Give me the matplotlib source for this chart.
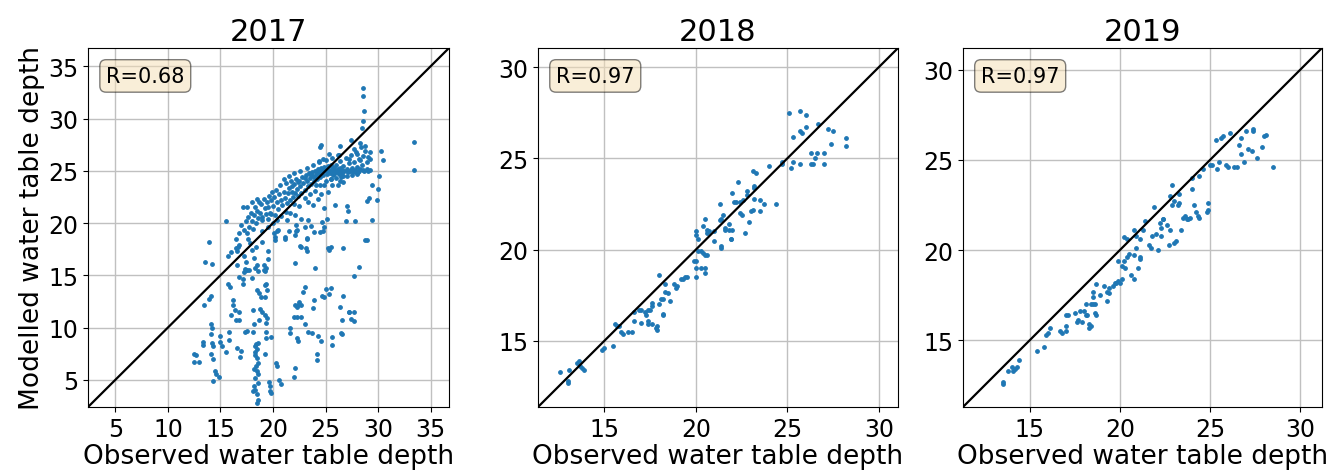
import matplotlib
matplotlib.use("Agg")
import matplotlib.pyplot as plt

# ---- data (observed, modelled) ----
years = ["2017", "2018", "2019"]
r_values = ["R=0.68", "R=0.97", "R=0.97"]

obs_2017 = [
    28.6, 28.6, 28.7, 28.6, 28.5, 33.4, 33.4, 24.6, 24.5, 30.3,
    30.5, 30.1, 30.0, 29.9, 29.4, 29.1, 28.9, 29.4, 28.8, 28.2,
    27.7, 27.0, 27.1, 26.9, 27.8, 26.4, 26.7, 25.5, 25.3, 24.8,
    24.7, 24.0, 23.9, 23.6, 23.1, 22.1, 22.3, 22.1, 21.5, 21.1,
    20.2, 20.4, 20.1, 19.5, 19.5, 19.3, 19.2, 19.2, 19.3, 18.7,
    18.9, 18.5, 18.3, 18.2, 18.0, 17.8, 17.4, 17.2, 17.1, 17.1,
    16.2, 16.2, 15.9, 15.7, 15.7, 15.5, 13.9, 13.5, 14.2, 14.1,
    13.9, 13.4, 16.0, 16.5, 16.8, 14.1, 14.2, 14.1, 15.0, 15.0,
    15.1, 13.3, 13.3, 12.5, 12.7, 12.5, 13.0, 14.2, 14.3, 14.1,
    14.6, 14.9, 14.3, 15.5, 15.8, 15.8, 16.6, 17.0, 17.3, 18.2,
    18.1, 18.4, 18.3, 18.5, 18.3, 18.6, 18.3, 18.5, 18.6, 18.4,
    18.2, 18.5, 18.6, 18.3, 18.6, 18.2, 18.3, 18.1, 18.5, 18.6,
    18.5, 19.3, 19.3, 19.3, 19.0, 18.8, 19.7, 19.7, 19.8, 20.4,
    22.1, 22.0, 21.6, 22.1, 22.4, 22.7, 22.3, 22.5, 22.0, 22.3,
    22.7, 23.0, 22.9, 23.0, 22.3, 22.4, 23.7, 24.2, 24.2, 24.6,
    24.9, 24.7, 25.5, 25.6, 25.6, 26.4, 26.7, 26.6, 26.6, 27.2,
    27.4, 27.7, 27.7, 23.9, 25.0, 23.3, 21.6, 19.6, 19.2, 19.4,
    16.8, 18.0, 17.7, 18.6, 17.4, 16.6, 17.2, 16.7, 16.6, 17.1,
    26.5, 24.3, 28.9, 24.5, 23.2, 22.6, 23.2, 23.8, 25.3, 27.2,
    20.3, 20.6, 20.8, 19.2, 19.8, 14.3, 14.5, 16.9, 17.5, 16.4,
    16.8, 18.1, 18.7, 18.5, 19.4, 19.2, 19.1, 19.1, 17.3, 17.5,
    # dense band
    16.8, 17.0, 17.2, 17.4, 17.5, 17.6, 17.7, 17.9, 18.0, 18.1,
    18.2, 18.3, 18.4, 18.5, 18.6, 18.7, 18.8, 18.9, 19.0, 19.1,
    19.2, 19.3, 19.4, 19.5, 19.6, 19.7, 19.8, 19.9, 20.0, 20.1,
    20.2, 20.3, 20.4, 20.5, 20.6, 20.7, 20.8, 20.9, 21.0, 21.1,
    21.2, 21.3, 21.4, 21.5, 21.6, 21.7, 21.8, 21.9, 22.0, 22.1,
    22.2, 22.3, 22.4, 22.5, 22.6, 22.7, 22.8, 22.9, 23.0, 23.1,
    23.2, 23.3, 23.4, 23.5, 23.6, 23.7, 23.8, 23.9, 24.0, 24.1,
    24.2, 24.3, 24.4, 24.5, 24.6, 24.7, 24.8, 24.9, 25.0, 25.1,
    25.2, 25.3, 25.4, 25.5, 25.6, 25.7, 25.8, 25.9, 26.0, 26.1,
    26.2, 26.3, 26.4, 26.5, 26.6, 26.7, 26.8, 26.9, 27.0, 27.1,
    27.2, 27.3, 27.4, 27.5, 27.6, 27.7, 27.8, 27.9, 28.0, 28.1,
    28.2, 28.3, 28.4, 28.5, 28.6, 28.7, 28.8, 28.9, 29.0, 29.2,
    19.0, 19.5, 20.0, 20.4, 20.8, 21.2, 21.6, 22.0, 22.5, 23.0,
    23.5, 24.0, 24.5, 25.0, 25.5, 26.0, 26.5, 27.0, 27.5, 28.0,
    21.0, 21.5, 22.0, 22.6, 23.2, 23.8, 24.4, 25.0, 25.6, 26.2,
    17.5, 18.0, 18.5, 16.5, 16.8, 16.5, 16.0, 17.6, 18.4, 19.0,
    20.2, 20.5, 21.1, 22.2, 23.2, 22.7, 24.9, 25.1, 25.2, 25.9,
    24.9, 24.3, 23.8, 23.3, 24.6, 25.2, 25.6, 24.9, 24.1, 26.2,
    26.7, 22.1, 22.7, 23.3, 22.2, 23.0, 21.3, 19.0, 19.5, 19.8,
    25.3, 24.8, 26.4, 27.4, 28.3, 27.7, 26.3, 27.2, 28.3, 29.2,
    29.2, 28.8, 28.0, 28.9, 28.0, 26.7, 25.5, 25.8, 24.4, 24.0,
    24.2, 24.6, 25.0, 25.4, 25.8, 26.2, 26.6, 27.0, 27.4, 27.8,
    28.2, 28.6, 29.0, 26.4, 25.6, 24.8, 23.6, 23.0, 22.4, 21.8,
]
mod_2017 = [
    32.9, 32.2, 30.7, 29.8, 29.1, 27.8, 25.1, 27.5, 27.3, 26.9,
    26.0, 24.5, 23.3, 22.2, 23.6, 22.4, 22.1, 20.3, 18.4, 15.8,
    14.9, 21.6, 21.2, 20.2, 20.2, 24.0, 17.6, 17.7, 17.4, 19.2,
    20.1, 15.7, 19.1, 19.7, 17.6, 16.2, 19.3, 18.9, 19.2, 18.7,
    18.4, 19.2, 19.0, 17.3, 16.6, 15.7, 15.4, 14.1, 14.2, 13.3,
    12.9, 16.0, 15.7, 16.7, 17.4, 18.1, 15.5, 15.3, 14.6, 14.2,
    12.6, 12.2, 13.9, 14.2, 16.8, 20.2, 18.2, 16.3, 16.1, 13.0,
    12.7, 12.2, 11.2, 10.7, 10.7, 10.3, 10.0, 9.4, 9.2, 8.6,
    8.2, 8.6, 8.3, 7.5, 7.4, 6.7, 6.7, 8.5, 8.2, 7.5,
    5.6, 5.3, 4.9, 7.7, 9.6, 8.8, 8.0, 7.8, 9.6, 10.3,
    9.6, 8.4, 8.2, 7.9, 7.7, 8.5, 7.4, 7.1, 6.6, 6.3,
    6.0, 5.8, 5.6, 5.2, 4.7, 4.4, 4.0, 3.9, 3.6, 3.1,
    2.8, 9.6, 9.0, 10.4, 11.5, 11.8, 4.4, 3.9, 3.7, 6.3,
    6.1, 5.3, 9.5, 12.2, 12.2, 12.2, 12.0, 12.4, 11.0, 11.0,
    11.0, 13.9, 13.4, 10.3, 9.0, 8.7, 9.5, 7.5, 6.9, 8.7,
    12.9, 13.0, 13.8, 8.3, 9.1, 12.0, 13.0, 9.4, 10.7, 11.5,
    10.8, 10.6, 11.5, 12.6, 13.7, 9.6, 10.0, 4.8, 11.2, 10.9,
    14.8, 14.7, 15.5, 15.4, 16.3, 16.0, 16.8, 17.7, 17.3, 21.5,
    9.5, 9.2, 18.4, 19.1, 18.6, 17.8, 17.3, 11.9, 13.2, 11.5,
    6.6, 5.0, 4.6, 7.5, 9.1, 7.0, 5.8, 7.2, 9.7, 11.7,
    11.5, 11.7, 10.7, 13.6, 13.6, 12.9, 16.0, 15.5, 15.6, 15.5,
    # dense band
    19.0, 19.8, 19.3, 20.2, 19.0, 20.6, 19.6, 21.0, 20.2, 19.4,
    20.8, 21.5, 20.0, 21.2, 20.5, 22.0, 21.0, 21.8, 20.6, 22.3,
    21.4, 20.9, 22.0, 21.5, 22.6, 21.0, 22.2, 23.0, 21.6, 22.5,
    20.8, 23.2, 22.0, 21.3, 22.8, 23.6, 22.2, 21.7, 23.0, 22.4,
    23.8, 21.9, 22.9, 23.4, 22.2, 24.0, 23.0, 22.5, 23.7, 22.9,
    24.2, 23.3, 22.6, 24.0, 23.5, 22.9, 24.4, 23.8, 23.2, 24.6,
    24.0, 23.5, 24.8, 24.3, 23.7, 24.9, 24.5, 24.0, 25.0, 24.6,
    24.2, 25.2, 24.8, 24.4, 25.3, 24.9, 24.6, 25.4, 25.0, 24.7,
    25.5, 25.1, 24.8, 25.6, 25.0, 24.6, 25.3, 25.0, 25.6, 24.9,
    25.2, 24.7, 25.9, 25.1, 24.8, 25.5, 25.0, 26.2, 25.2, 24.9,
    25.7, 25.0, 26.5, 25.3, 24.9, 25.8, 25.1, 26.8, 25.4, 24.9,
    26.1, 25.2, 27.3, 25.6, 26.4, 25.0, 26.9, 25.8, 26.3, 25.1,
    19.2, 19.6, 20.0, 20.3, 20.7, 21.1, 21.0, 21.8, 21.6, 22.4,
    22.8, 23.1, 23.6, 24.0, 24.2, 24.3, 24.4, 24.5, 24.6, 24.7,
    24.2, 24.5, 24.8, 25.0, 25.3, 25.6, 25.8, 26.0, 26.2, 26.5,
    21.5, 22.0, 22.3, 18.5, 17.9, 17.6, 17.2, 18.5, 17.7, 18.2,
    18.7, 19.3, 18.5, 19.2, 18.5, 17.7, 19.6, 20.4, 17.6, 21.7,
    21.4, 22.3, 21.7, 22.0, 22.8, 23.0, 23.6, 23.6, 23.6, 23.6,
    23.9, 20.8, 20.4, 20.3, 19.8, 19.6, 20.3, 20.3, 20.4, 20.9,
    26.6, 26.1, 27.4, 27.9, 27.7, 27.1, 26.5, 26.1, 26.0, 26.8,
    26.1, 27.4, 26.6, 25.2, 24.8, 24.5, 24.2, 24.7, 25.9, 24.3,
    24.9, 25.0, 25.1, 25.0, 24.9, 25.0, 25.1, 25.0, 25.1, 25.0,
    25.0, 25.1, 25.0, 25.3, 25.4, 25.2, 24.6, 24.3, 23.9, 23.5,
]

obs_2018 = [
    12.6, 13.0, 13.0, 13.1, 13.5, 13.7, 13.8, 13.9, 13.6, 14.9,
    15.0, 15.5, 15.6, 15.7, 15.8, 15.9, 16.0, 16.3, 16.5, 16.6,
    17.0, 16.6, 16.9, 17.0, 17.2, 17.4, 17.5, 17.3, 17.4, 17.6,
    17.4, 17.6, 17.6, 17.8, 17.9, 17.9, 18.0, 18.0, 18.1, 18.2,
    18.2, 18.2, 18.3, 18.3, 18.5, 18.6, 18.8, 18.9, 19.0, 19.2,
    19.3, 19.4, 19.5, 20.0, 19.9, 20.0, 20.0, 20.1, 20.3, 20.4,
    20.5, 20.6, 20.3, 20.5, 20.5, 20.0, 20.1, 20.0, 20.4, 20.5,
    20.6, 20.6, 20.7, 21.0, 21.0, 21.3, 21.3, 21.4, 21.5, 21.4,
    21.4, 21.6, 21.6, 21.8, 21.8, 21.9, 21.9, 22.0, 22.0, 22.1,
    22.2, 22.3, 22.4, 22.5, 22.4, 22.6, 22.7, 22.8, 22.8, 22.9,
    23.0, 23.1, 23.2, 23.2, 23.2, 23.1, 23.3, 23.5, 23.5, 23.7,
    24.0, 24.4, 24.7, 25.1, 25.7, 26.0, 25.3, 25.7, 25.8, 26.0,
    26.7, 27.2, 27.5, 28.2, 28.2, 27.4, 26.3, 26.6, 27.0, 26.5,
    26.4, 26.3, 27.0, 25.7, 25.3, 25.2, 24.7,
]
mod_2018 = [
    13.3, 12.8, 12.7, 13.4, 13.8, 13.6, 13.5, 13.4, 13.9, 14.5,
    14.6, 14.7, 15.9, 15.8, 15.8, 15.5, 15.4, 15.5, 15.5, 16.1,
    16.0, 16.6, 16.7, 16.7, 16.6, 16.7, 16.7, 16.4, 16.1, 15.9,
    15.9, 17.1, 16.9, 15.7, 15.8, 15.6, 18.6, 17.0, 17.3, 16.5,
    16.4, 17.3, 18.1, 17.7, 17.6, 17.2, 18.1, 17.9, 18.0, 18.4,
    18.4, 18.5, 18.5, 18.5, 19.4, 19.4, 19.0, 19.9, 19.9, 19.8,
    19.7, 19.7, 19.0, 19.0, 18.7, 20.8, 20.6, 21.0, 21.3, 21.7,
    20.9, 21.1, 21.0, 21.0, 20.5, 21.6, 22.5, 21.7, 21.9, 20.2,
    20.1, 21.1, 21.2, 21.4, 21.1, 20.6, 20.6, 21.1, 23.1, 22.6,
    22.6, 23.7, 22.0, 21.9, 22.6, 22.7, 20.9, 23.2, 23.0, 21.5,
    22.1, 22.2, 23.4, 23.5, 22.8, 24.3, 24.2, 22.1, 22.7, 22.5,
    24.6, 22.5, 24.7, 27.5, 27.6, 27.4, 26.2, 26.5, 26.4, 26.7,
    26.9, 26.6, 26.5, 26.1, 25.7, 25.8, 25.3, 25.3, 25.3, 25.0,
    24.7, 24.7, 24.7, 24.7, 24.8, 24.5, 24.8,
]

obs_2019 = [
    13.5, 13.5, 13.8, 14.0, 14.1, 14.2, 14.4, 14.3, 15.4, 15.8,
    15.9, 16.1, 16.0, 16.7, 16.8, 17.0, 17.0, 17.0, 17.1, 17.5,
    17.6, 17.7, 17.8, 17.9, 18.0, 18.1, 18.1, 18.2, 18.3, 18.4,
    18.3, 18.4, 18.5, 18.5, 18.6, 18.6, 18.7, 18.5, 18.7, 18.9,
    19.1, 19.3, 19.3, 19.4, 19.4, 19.6, 19.7, 19.8, 19.9, 20.0,
    19.9, 20.1, 20.1, 20.2, 20.3, 20.4, 20.5, 20.6, 20.8, 20.8,
    20.9, 21.0, 21.1, 21.1, 20.2, 20.4, 20.8, 20.9, 21.1, 21.3,
    21.4, 21.6, 21.7, 21.8, 21.9, 22.0, 22.1, 22.2, 22.3, 22.3,
    22.4, 22.4, 22.6, 22.7, 22.8, 22.8, 22.9, 22.9, 23.0, 23.0,
    23.1, 23.2, 23.3, 23.3, 23.4, 23.5, 23.6, 23.7, 23.8, 23.9,
    24.0, 24.0, 24.1, 24.2, 24.3, 24.4, 24.4, 24.6, 24.8, 24.9,
    24.9, 25.0, 25.1, 25.4, 25.5, 25.9, 26.0, 26.3, 26.5, 26.6,
    26.7, 26.7, 26.9, 27.0, 27.1, 27.3, 27.4, 27.4, 27.6, 27.9,
    28.0, 28.1, 28.5, 25.3, 25.7, 26.1, 25.6,
]
mod_2019 = [
    12.6, 12.7, 13.3, 13.5, 13.3, 13.4, 13.9, 13.5, 14.4, 14.6,
    15.3, 15.7, 15.4, 15.5, 15.4, 15.5, 15.8, 16.4, 16.4, 16.5,
    16.0, 16.1, 16.6, 16.0, 16.6, 16.4, 17.0, 16.4, 15.9, 15.8,
    15.7, 17.0, 17.4, 17.0, 17.0, 16.5, 16.4, 17.7, 18.1, 17.5,
    18.0, 17.2, 17.7, 17.6, 17.9, 18.0, 18.2, 18.2, 18.3, 18.2,
    19.4, 18.4, 19.1, 19.4, 19.0, 19.6, 19.8, 18.6, 19.7, 18.4,
    20.1, 19.0, 19.5, 19.6, 20.7, 20.6, 21.1, 20.8, 20.6, 21.1,
    21.6, 20.3, 20.1, 20.8, 22.4, 20.9, 20.0, 21.5, 21.2, 20.8,
    21.7, 21.7, 21.4, 20.3, 21.1, 23.0, 23.6, 22.5, 20.4, 22.7,
    20.5, 22.5, 22.6, 23.1, 21.1, 21.8, 21.9, 21.7, 21.7, 21.8,
    23.4, 24.0, 22.5, 22.1, 21.9, 21.8, 24.1, 24.5, 22.1, 22.2,
    22.6, 24.7, 24.7, 24.5, 24.9, 24.7, 24.6, 24.6, 24.6, 25.8,
    26.2, 25.3, 24.9, 26.6, 25.6, 25.5, 26.7, 26.6, 25.1, 25.7,
    26.3, 26.4, 24.6, 26.1, 26.3, 26.5, 26.2,
]

observed = [obs_2017, obs_2018, obs_2019]
modelled = [mod_2017, mod_2018, mod_2019]
limits = [(2.4, 36.75), (11.38, 31.05), (11.3, 31.2)]
ticks = [[5, 10, 15, 20, 25, 30, 35], [15, 20, 25, 30], [15, 20, 25, 30]]

fig = plt.figure(figsize=(13.36, 4.77), dpi=100)
lefts = [0.0659, 0.4027, 0.7208]
widths = [0.2702, 0.2695, 0.2687]

for i in range(3):
    ax = fig.add_axes([lefts[i], 0.1447, widths[i], 0.7526])
    lo, hi = limits[i]
    ax.scatter(observed[i], modelled[i], s=6, color='#1f77b4', zorder=2)
    ax.plot([lo, hi], [lo, hi], color='black', linewidth=1.6, zorder=3)
    ax.set_xlim(lo, hi)
    ax.set_ylim(lo, hi)
    ax.set_xticks(ticks[i])
    ax.set_yticks(ticks[i])
    ax.grid(True, color='#c0c0c0', linewidth=1.0)
    ax.tick_params(labelsize=17)
    ax.set_title(years[i], fontsize=22)
    ax.set_xlabel('Observed water table depth', fontsize=19, labelpad=2)
    if i == 0:
        ax.set_ylabel('Modelled water table depth', fontsize=19, labelpad=2)
    ax.text(0.05, 0.95, r_values[i], transform=ax.transAxes, fontsize=15,
            verticalalignment='top',
            bbox=dict(boxstyle='round', facecolor='wheat', alpha=0.5))

fig.savefig('out.png', dpi=100)
